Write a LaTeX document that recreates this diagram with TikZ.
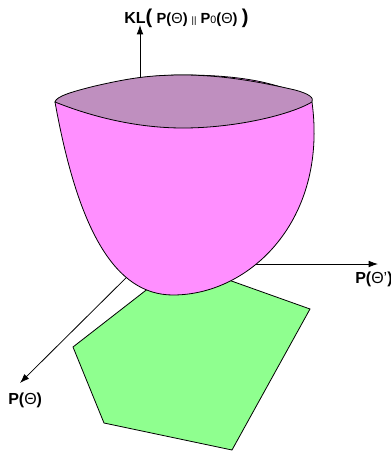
\documentclass[tikz,border=0pt]{standalone}
\usepackage{fontspec}
\setmainfont{Liberation Sans}
\usetikzlibrary{positioning, arrows.meta}

\definecolor{bowlpink}{HTML}{FF8FFF}
\definecolor{rimpurple}{HTML}{BF8FBF}
\definecolor{setgreen}{HTML}{8FFF8F}

\begin{document}
\begin{tikzpicture}[x=0.75pt, y=-0.75pt,
    axis/.style={-{Latex[length=7pt,width=5pt]}, line width=0.6pt},
    outline/.style={draw=black, line width=0.6pt},
    lbl/.style={font=\fontsize{12}{14}\selectfont\bfseries, inner sep=0pt}]
\useasboundingbox (0,0) rectangle (390,454);

    % Axes
    \coordinate (O) at (140,264);
    \coordinate (kltip) at (140,25);
    \coordinate (qtip) at (378,264);
    \coordinate (ptip) at (20,383);
    \draw[axis] (O) -- (kltip);
    \draw[axis] (O) -- (qtip);
    \draw[axis] (O) -- (ptip);

    % Axis labels
    \node[lbl, anchor=base west] (kl) at (124,23) {KL{\fontsize{15}{15}\selectfont(} {\fontsize{11}{13}\selectfont P(\mdseries Θ\bfseries) {\mdseries\scriptsize ||} P{\mdseries\footnotesize 0}(\mdseries Θ\bfseries)} {\fontsize{15}{15}\selectfont)}};
    \node[lbl, anchor=base west] (q) at (355,283) {P(\mdseries Θ'\bfseries)};
    \node[lbl, anchor=base west] (p) at (8,404) {P(\mdseries Θ\bfseries)};

    % Feasible set
    \filldraw[outline, fill=setgreen] (181,263) -- (310,309) -- (232,450) -- (104,423) -- (73,347) -- cycle;

    % Bowl body
    \filldraw[outline, fill=bowlpink] (55,102) .. controls (78,230) and (115,295) .. (173,295)
        .. controls (250,295) and (328,220) .. (312,102)
        .. controls (280,80) and (230,75) .. (183,75)
        .. controls (140,75) and (90,85) .. (55,102) -- cycle;

    % Rim
    \filldraw[outline, fill=rimpurple] (55,102) .. controls (56,96) and (75,91) .. (95,86)
        .. controls (130,78) and (150,75) .. (183,75)
        .. controls (225,75) and (265,83) .. (295,90)
        .. controls (310,94) and (314,98) .. (312,102)
        .. controls (290,115) and (235,128) .. (183,128)
        .. controls (135,128) and (90,116) .. (55,102) -- cycle;
\end{tikzpicture}
\end{document}
